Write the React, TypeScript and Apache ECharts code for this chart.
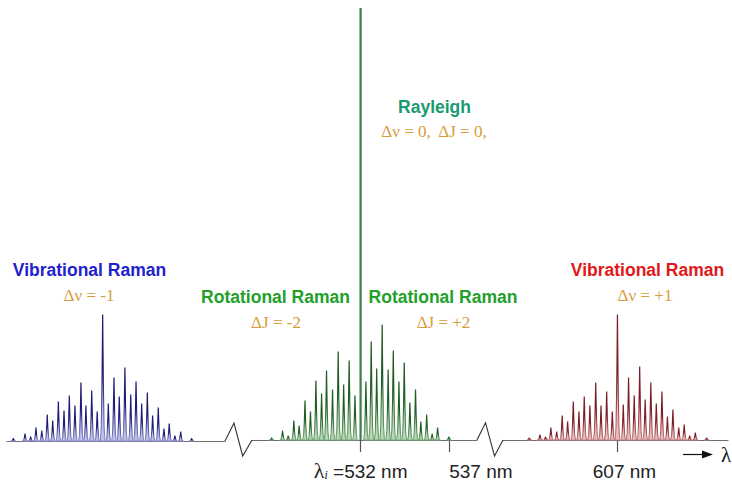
import React, { useEffect, useRef } from 'react';
import * as echarts from 'echarts';

// ---- Data (wavelength in nm, intensity in arbitrary units) ----
// Anti-Stokes vibrational Raman band (Δν = -1), centred near 473 nm
const antiStokesPos = [467.94, 468.6, 468.92, 469.22, 469.55, 469.86, 470.17, 470.49, 470.81, 471.11, 471.43, 471.77, 472.05, 472.38, 472.69, 473.0, 473.32, 473.64, 473.94, 474.26, 474.59, 474.89, 475.21, 475.53, 475.83, 476.15, 476.47, 476.77, 477.09, 477.42, 478.04];
const antiStokesInt = [2.4, 7, 4, 13, 10, 26, 20, 39, 30, 45, 35, 58, 35, 50, 29, 126, 37, 63, 44, 73, 46, 59, 37, 48, 25, 33, 12, 17, 5, 9, 2.4];

// Pure rotational Raman lines (ΔJ = -2 / +2) around the 532 nm excitation
const rotationalPos = [526.96, 527.58, 527.9, 528.22, 528.52, 528.85, 529.16, 529.47, 529.79, 530.07, 530.41, 530.73, 531.04, 531.35, 531.68, 532.3, 532.6, 532.91, 533.22, 533.56, 533.85, 534.17, 534.47, 534.79, 535.11, 535.41, 535.74, 536.05, 536.36, 537.0];
const rotationalInt = [2, 9, 4, 19, 14, 39, 28, 59, 46, 69, 50, 88, 55, 79, 44, 58, 98, 71, 115, 70, 89, 58, 77, 37, 50, 18, 25, 6, 12, 3];

// Rayleigh line
const rayleighPos = [532];
const rayleighInt = [432];

// Stokes vibrational Raman band (Δν = +1), centred at 607 nm
const stokesPos = [602.01, 602.61, 602.93, 603.23, 603.56, 603.87, 604.18, 604.5, 604.82, 605.12, 605.44, 605.77, 606.07, 606.39, 606.71, 607.0, 607.33, 607.63, 607.95, 608.26, 608.57, 608.89, 609.2, 609.52, 609.83, 610.14, 610.47, 610.78, 611.09, 611.41, 612.05];
const stokesInt = [2, 5, 3, 12, 8, 24, 18, 38, 28, 43, 34, 57, 34, 48, 28, 125, 35, 62, 44, 73, 40, 57, 36, 48, 23, 30, 12, 15, 4, 7, 2];

// Axis ranges (nm) of the three broken segments
const segMin = [467.58, 525.85, 600.52];
const segMax = [479.93, 538.59, 613.26];

// Tick labels
const centreTicks = [532, 537];
const stokesTicks = [607];

const SANS = '"Liberation Sans", Arial, sans-serif';
const SERIF = '"Liberation Serif", "Times New Roman", serif';

const HALF_W = 0.13; // nm, half base width of one drawn line
const SHAPE: number[][] = [
  [-1, 0], [-0.6, 0.12], [-0.3, 0.45], [-0.12, 0.8], [-0.03, 1], [0.03, 1],
  [0.12, 0.8], [0.3, 0.45], [0.6, 0.12], [1, 0],
];

function peakSeries(idx: number, pos: number[], ints: number[], dark: string, mid: string, light: string) {
  return {
    type: 'custom',
    xAxisIndex: idx,
    yAxisIndex: idx,
    clip: false,
    z: 3,
    data: pos.map((p, i) => [p, ints[i]]),
    renderItem: (_p: any, api: any) => {
      const x = api.value(0);
      const h = api.value(1);
      const pts = SHAPE.map(([dx, fy]) => api.coord([x + dx * HALF_W, h * fy]));
      return {
        type: 'polygon',
        shape: { points: pts },
        style: {
          fill: light,
          stroke: new echarts.graphic.LinearGradient(0, 0, 0, 1, [
            { offset: 0, color: dark },
            { offset: 0.5, color: dark },
            { offset: 1, color: mid },
          ]),
          lineWidth: 1.1,
        },
      };
    },
  };
}

function xAxis(idx: number, ticks: number[], formatter?: (v: number) => string) {
  return {
    type: 'value',
    gridIndex: idx,
    min: segMin[idx],
    max: segMax[idx],
    splitLine: { show: false },
    axisLine: { show: true, lineStyle: { color: '#6e6e6e', width: 1.2 } },
    axisTick: {
      show: ticks.length > 0,
      customValues: ticks,
      length: 12,
      lineStyle: { color: '#555', width: 1.2 },
    },
    axisLabel: {
      show: ticks.length > 0,
      customValues: ticks,
      margin: 17,
      formatter: formatter || (() => ''),
      rich: {
        t: { fontFamily: SANS, fontSize: 19, color: '#222', lineHeight: 24, verticalAlign: 'bottom' },
        l: { fontFamily: SERIF, fontSize: 22, color: '#222', lineHeight: 24, verticalAlign: 'bottom' },
        s: { fontFamily: SERIF, fontSize: 12, fontStyle: 'italic', color: '#222', lineHeight: 13, verticalAlign: 'bottom' },
        g537: { width: 64 },
        g607: { width: 14 },
      },
    },
  };
}

export default function App() {
  const ref = useRef<HTMLDivElement>(null);

  useEffect(() => {
    if (!ref.current) return;
    const chart = echarts.init(ref.current, null, { renderer: 'svg' });

    const label = (text: string, x: number, y: number, color: string, bold: boolean) => ({
      type: 'text',
      x,
      y,
      z: 10,
      style: {
        text,
        fill: color,
        font: bold ? `bold 17.5px ${SANS}` : `17px ${SERIF}`,
        align: 'center',
        verticalAlign: 'middle',
        textAlign: 'center',
        textVerticalAlign: 'middle',
      },
    });

    const orange = '#d69c3a';

    chart.setOption({
      animation: false,
      textStyle: { fontFamily: SANS },
      grid: [
        { left: 7, right: 507, top: 9, bottom: 42 },
        { left: 252, right: 255, top: 8, bottom: 43 },
        { left: 503, right: 4, top: 8, bottom: 43 },
      ],
      xAxis: [
        xAxis(0, []),
        xAxis(1, centreTicks, (v: number) =>
          v === centreTicks[0] ? `{l|λ}{s|i}{t| =${v} nm}` : `{g537|}{t|${v} nm}`
        ),
        xAxis(2, stokesTicks, (v: number) => `{g607|}{t|${v} nm}`),
      ],
      yAxis: [0, 1, 2].map((i) => ({
        type: 'value',
        gridIndex: i,
        min: 0,
        max: 432,
        show: false,
        splitLine: { show: false },
      })),
      series: [
        peakSeries(0, antiStokesPos, antiStokesInt, '#1c1c78', '#9090cf', '#bfbfe6'),
        peakSeries(1, rotationalPos, rotationalInt, '#1e5c22', '#78aa78', '#b8d6b8'),
        peakSeries(2, stokesPos, stokesInt, '#7c1c24', '#c68080', '#e6bcbc'),
        {
          type: 'custom',
          xAxisIndex: 1,
          yAxisIndex: 1,
          clip: false,
          z: 4,
          data: rayleighPos.map((p, i) => [p, rayleighInt[i]]),
          renderItem: (_p: any, api: any) => {
            const top = api.coord([api.value(0), api.value(1)]);
            const bot = api.coord([api.value(0), 0]);
            return {
              type: 'rect',
              shape: { x: top[0] - 1.5, y: top[1], width: 3, height: bot[1] - top[1] },
              style: {
                fill: new echarts.graphic.LinearGradient(0, 0, 1, 0, [
                  { offset: 0, color: '#a9c7ab' },
                  { offset: 0.5, color: '#3b7345' },
                  { offset: 1, color: '#a9c7ab' },
                ]),
              },
            };
          },
        },
      ],
      graphic: [
        // axis break marks
        {
          type: 'polyline',
          z: 5,
          shape: { points: [[225, 441], [234, 423], [242.7, 456], [252, 440]] },
          style: { stroke: '#333', lineWidth: 1.1, fill: null },
        },
        {
          type: 'polyline',
          z: 5,
          shape: { points: [[477, 440], [485.5, 422.7], [494.5, 456], [503, 440]] },
          style: { stroke: '#333', lineWidth: 1.1, fill: null },
        },
        // wavelength arrow
        {
          type: 'line',
          shape: { x1: 683, y1: 454.5, x2: 704, y2: 454.5 },
          style: { stroke: '#111', lineWidth: 1.2 },
        },
        {
          type: 'polygon',
          shape: { points: [[702, 450.5], [713, 454.5], [702, 458.5]] },
          style: { fill: '#111' },
        },
        {
          type: 'text',
          x: 726,
          y: 455,
          style: {
            text: 'λ',
            fill: '#111',
            font: `21px ${SERIF}`,
            align: 'center',
            verticalAlign: 'middle',
            textAlign: 'center',
            textVerticalAlign: 'middle',
          },
        },
        label('Rayleigh', 434.5, 107, '#1a9a70', true),
        label('Δν = 0,  ΔJ = 0,', 434, 131, orange, false),
        label('Vibrational Raman', 89.5, 270, '#2222cc', true),
        label('Δν = -1', 89, 295, orange, false),
        label('Rotational Raman', 275.5, 297, '#22a02a', true),
        label('ΔJ = -2', 276, 322, orange, false),
        label('Rotational Raman', 443, 297, '#22a02a', true),
        label('ΔJ = +2', 443.5, 322, orange, false),
        label('Vibrational Raman', 647.5, 270, '#e01818', true),
        label('Δν = +1', 645, 295, orange, false),
      ],
    });

    return () => chart.dispose();
  }, []);

  return (
    <div
      ref={ref}
      style={{ position: 'fixed', left: 0, top: 0, width: 732, height: 483, background: '#fff' }}
    />
  );
}
